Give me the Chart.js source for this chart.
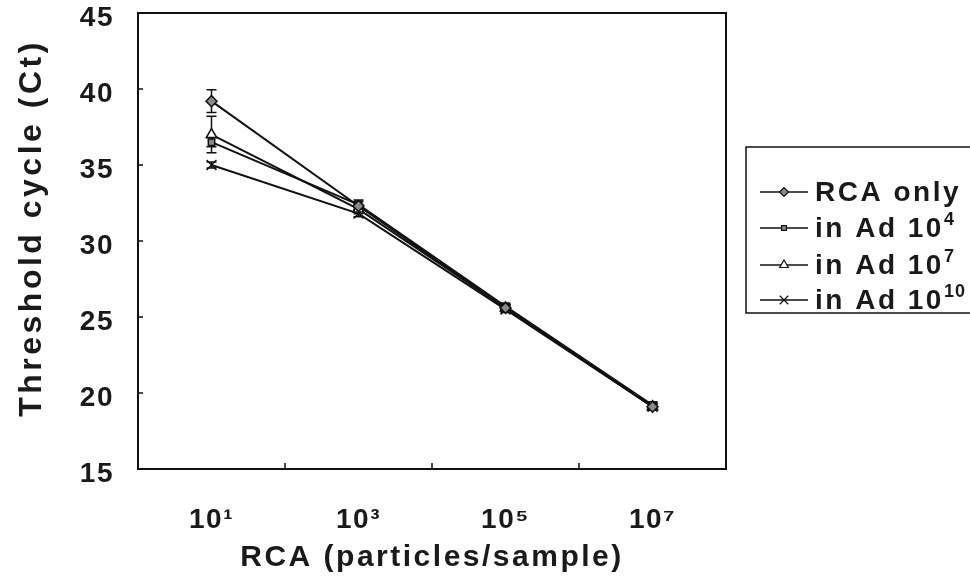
<!DOCTYPE html>
<html>
<head>
<meta charset="utf-8">
<script src="https://cdn.jsdelivr.net/npm/chart.js@4.4.1/dist/chart.umd.min.js"></script>
<style>
html,body{margin:0;padding:0;background:#fff;}
#wrap{width:970px;height:579px;position:relative;}
</style>
</head>
<body>
<div id="wrap"><canvas id="c" width="970" height="579"></canvas></div>
<script>
// ---- data ----
const xValues = [10, 1000, 100000, 10000000];
const seriesNames = ['RCA only', 'in Ad 10\u2074', 'in Ad 10\u2077', 'in Ad 10\u00B9\u2070'];
const legendBase = ['RCA only', 'in Ad 10', 'in Ad 10', 'in Ad 10'];
const legendSup = ['', '4', '7', '10'];
const rcaOnly = [39.2, 32.3, 25.6, 19.1];
const adE4 = [36.5, 32.4, 25.7, 19.2];
const adE7 = [37.0, 32.1, 25.6, 19.1];
const adE10 = [35.0, 31.8, 25.5, 19.1];
const rcaOnlyErr = [0.75, 0.3, 0.2, 0.2];
const adE4Err = [0.3, 0.3, 0.2, 0.2];
const adE7Err = [1.2, 0.3, 0.2, 0.2];
const adE10Err = [0.2, 0.2, 0.2, 0.2];
const yTickValues = [15, 20, 25, 30, 35, 40, 45];
const xTickExponents = [0, 1, 2, 3, 4, 5, 6, 7, 8];
const xLabelExponents = [1, 3, 5, 7];
const xMarkExponents = [2, 4, 6];

const sup = {'0':'\u2070','1':'\u00B9','2':'\u00B2','3':'\u00B3','4':'\u2074','5':'\u2075','6':'\u2076','7':'\u2077','8':'\u2078','9':'\u2079'};
const toSup = n => String(n).split('').map(d => sup[d]).join('');

const FONT = "'Liberation Sans', Arial, Helvetica, sans-serif";
const TXT = '#1a1a1a';

const allVals = [rcaOnly, adE4, adE7, adE10];
const allErr = [rcaOnlyErr, adE4Err, adE7Err, adE10Err];
const styles = [
  {pointStyle:'rectRot', radius:5.5, bg:'#8a8a8a'},
  {pointStyle:'rect', radius:4.5, bg:'#8a8a8a'},
  {pointStyle:'triangle', radius:6, bg:'#ffffff'},
  {pointStyle:'crossRot', radius:7, bg:'#ffffff'}
];

const datasets = allVals.map((vals, i) => ({
  label: seriesNames[i],
  data: xValues.map((x, j) => ({x: x, y: vals[j]})),
  borderColor: '#111',
  borderWidth: 2,
  backgroundColor: styles[i].bg,
  pointStyle: styles[i].pointStyle,
  pointRadius: styles[i].radius,
  pointBackgroundColor: styles[i].bg,
  pointBorderColor: '#111',
  pointBorderWidth: 1.5,
  tension: 0
}));

const letterSpacingPlugin = {
  id: 'ls',
  beforeDraw(chart) { chart.ctx.letterSpacing = '1.5px'; }
};

function spacedTitle(scale, ls, dy) {
  if (scale._spacedTitle) return;
  scale._spacedTitle = true;
  const orig = scale.drawTitle;
  scale.drawTitle = function () {
    const ctx = this.ctx;
    ctx.save();
    ctx.letterSpacing = ls;
    ctx.translate(0, dy);
    orig.apply(this, arguments);
    ctx.restore();
  };
}

const errorBarPlugin = {
  id: 'errbars',
  beforeDatasetsDraw(chart) {
    const ctx = chart.ctx, xs = chart.scales.x, ys = chart.scales.y;
    ctx.save();
    ctx.strokeStyle = '#111';
    ctx.lineWidth = 1.5;
    allVals.forEach((vals, i) => {
      vals.forEach((v, j) => {
        const e = allErr[i][j];
        const px = xs.getPixelForValue(xValues[j]);
        const top = ys.getPixelForValue(v + e);
        const bot = ys.getPixelForValue(v - e);
        ctx.beginPath();
        ctx.moveTo(px, top); ctx.lineTo(px, bot);
        ctx.moveTo(px - 5, top); ctx.lineTo(px + 5, top);
        ctx.moveTo(px - 5, bot); ctx.lineTo(px + 5, bot);
        ctx.stroke();
      });
    });
    ctx.restore();
  }
};

const framePlugin = {
  id: 'frame',
  afterDraw(chart) {
    const ctx = chart.ctx, a = chart.chartArea, xs = chart.scales.x, ys = chart.scales.y;
    ctx.save();
    ctx.strokeStyle = '#111';
    ctx.lineWidth = 2;
    ctx.strokeRect(a.left, a.top, a.right - a.left, a.bottom - a.top);
    ctx.lineWidth = 1.5;
    ctx.beginPath();
    xMarkExponents.forEach(e => {
      const px = xs.getPixelForValue(Math.pow(10, e));
      ctx.moveTo(px, a.bottom); ctx.lineTo(px, a.bottom - 6);
    });
    yTickValues.slice(1, -1).forEach(v => {
      const py = ys.getPixelForValue(v);
      ctx.moveTo(a.left, py); ctx.lineTo(a.left + 5, py);
    });
    ctx.stroke();

    // legend box
    const lx = 746, ly = 147, lw = 260, lh = 166;
    ctx.lineWidth = 1.5;
    ctx.strokeRect(lx, ly, lw, lh);
    const rows = [192, 228, 265, 300];
    ctx.textBaseline = 'middle';
    ctx.textAlign = 'left';
    legendBase.forEach((name, i) => {
      const y = rows[i];
      ctx.strokeStyle = '#111';
      ctx.lineWidth = 1.5;
      ctx.beginPath(); ctx.moveTo(760, y); ctx.lineTo(808, y); ctx.stroke();
      ctx.fillStyle = styles[i].bg;
      ctx.strokeStyle = '#111';
      ctx.lineWidth = 1.2;
      Chart.helpers.drawPoint(ctx, {pointStyle: styles[i].pointStyle, radius: styles[i].radius - 1, borderWidth: 1.2}, 784, y);
      ctx.fillStyle = TXT;
      ctx.letterSpacing = '2.5px';
      ctx.font = "bold 28px " + FONT;
      ctx.fillText(name, 815, y + 1);
      if (legendSup[i]) {
        const w = ctx.measureText(name).width;
        ctx.letterSpacing = '1px';
        ctx.font = "bold 18px " + FONT;
        ctx.fillText(legendSup[i], 815 + w, y - 8);
      }
    });
    ctx.restore();
  }
};

new Chart(document.getElementById('c'), {
  type: 'line',
  data: { datasets: datasets },
  plugins: [letterSpacingPlugin, errorBarPlugin, framePlugin],
  options: {
    responsive: false,
    animation: false,
    devicePixelRatio: 1,
    layout: { padding: { top: 13, right: 244, left: 0, bottom: 0 } },
    plugins: { legend: { display: false }, tooltip: { enabled: false } },
    scales: {
      x: {
        type: 'logarithmic',
        min: 1, max: 1e8,
        afterBuildTicks(scale) { scale.ticks = xTickExponents.map(e => ({value: Math.pow(10, e)})); },
        afterFit(scale) {
          scale.height = 110; scale.paddingLeft = 0; scale.paddingRight = 0;
          spacedTitle(scale, '2.5px', 0);
        },
        grid: { display: false, drawTicks: false },
        border: { display: false },
        ticks: {
          autoSkip: false, maxRotation: 0, padding: 34,
          color: TXT,
          font: { family: FONT, size: 28, weight: 'bold' },
          callback(value) {
            const e = Math.round(Math.log10(value));
            return xLabelExponents.includes(e) ? '10' + toSup(e) : '';
          }
        },
        title: {
          display: true, text: 'RCA (particles/sample)', color: TXT,
          font: { family: FONT, size: 30, weight: 'bold' },
          padding: { top: 0, bottom: 3 }
        }
      },
      y: {
        type: 'linear',
        min: 15, max: 45,
        afterBuildTicks(scale) { scale.ticks = yTickValues.map(v => ({value: v})); },
        afterFit(scale) {
          scale.width = 138; scale.paddingTop = 0; scale.paddingBottom = 0;
          spacedTitle(scale, '3.5px', -13);
        },
        grid: { display: false, drawTicks: false },
        border: { display: false },
        ticks: {
          padding: 24, color: TXT, labelOffset: 5,
          font: { family: FONT, size: 28, weight: 'bold' }
        },
        title: {
          display: true, text: 'Threshold cycle (Ct)', color: TXT,
          font: { family: FONT, size: 32, weight: 'bold' },
          padding: { top: 13, bottom: 0 }
        }
      }
    }
  }
});
</script>
</body>
</html>
